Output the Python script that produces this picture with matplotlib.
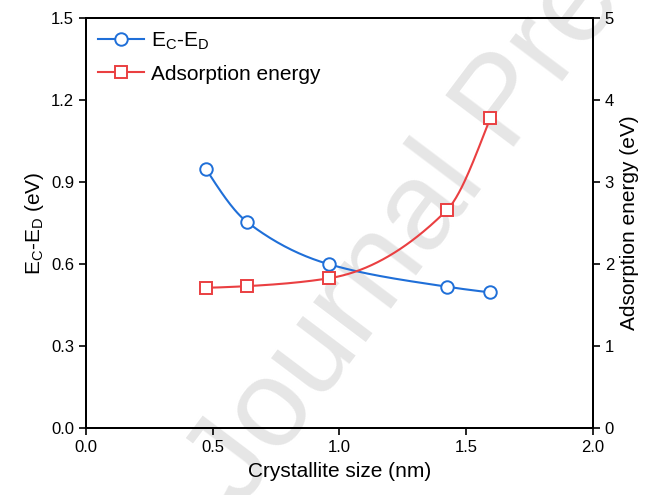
import numpy as np
import matplotlib.pyplot as plt
from matplotlib.lines import Line2D

plt.rcParams['font.family'] = ['Liberation Sans', 'DejaVu Sans']

# data
size_nm = [0.473, 0.635, 0.959, 1.423, 1.595]
ec_ed = [0.948, 0.754, 0.599, 0.517, 0.496]
ads_energy = [1.71, 1.73, 1.826, 2.655, 3.78]


def smooth_line(x, y, n=200):
    # monotone cubic (pchip) through the points, only for drawing the line
    x = np.asarray(x, float)
    y = np.asarray(y, float)
    h = np.diff(x)
    d = np.diff(y) / h
    m = np.zeros_like(y)
    for i in range(1, len(x) - 1):
        if d[i - 1] * d[i] > 0:
            w1 = 2 * h[i] + h[i - 1]
            w2 = h[i] + 2 * h[i - 1]
            m[i] = (w1 + w2) / (w1 / d[i - 1] + w2 / d[i])
    m[0] = ((2 * h[0] + h[1]) * d[0] - h[0] * d[1]) / (h[0] + h[1])
    if np.sign(m[0]) != np.sign(d[0]):
        m[0] = 0
    m[-1] = ((2 * h[-1] + h[-2]) * d[-1] - h[-1] * d[-2]) / (h[-1] + h[-2])
    if np.sign(m[-1]) != np.sign(d[-1]):
        m[-1] = 0
    xs = np.linspace(x[0], x[-1], n)
    idx = np.clip(np.searchsorted(x, xs) - 1, 0, len(x) - 2)
    t = (xs - x[idx]) / h[idx]
    h00 = 2 * t**3 - 3 * t**2 + 1
    h10 = t**3 - 2 * t**2 + t
    h01 = -2 * t**3 + 3 * t**2
    h11 = t**3 - t**2
    ys = h00 * y[idx] + h10 * h[idx] * m[idx] + h01 * y[idx + 1] + h11 * h[idx] * m[idx + 1]
    return xs, ys


blue = '#1f6fd8'
red = '#ea3f41'

fig = plt.figure(figsize=(6.49, 4.95), dpi=100)
ax = fig.add_axes([0.1325, 0.1354, 0.7812, 0.8282])
ax2 = ax.twinx()

# watermark, behind the curves
ax.text(0.37, -0.03, 'Journal Pre-proof', transform=fig.transFigure,
        fontsize=90, color='#e6e6e6', rotation=53, rotation_mode='anchor',
        ha='left', va='baseline', zorder=0, clip_on=False)

xs, ys = smooth_line(size_nm, ec_ed)
ax.plot(xs, ys, color=blue, lw=1.5, zorder=3)
ax.plot(size_nm, ec_ed, 'o', ms=9, mfc='white', mec=blue, mew=1.4, ls='none', zorder=4)

xs2, ys2 = smooth_line(size_nm, ads_energy)
ax2.plot(xs2, ys2, color=red, lw=1.5)
ax2.plot(size_nm, ads_energy, 's', ms=8.5, mfc='white', mec=red, mew=1.4, ls='none')

ax.set_xlim(0, 2.0)
ax.set_ylim(0, 1.5)
ax2.set_ylim(0, 5)
ax.set_xticks(np.arange(0, 2.01, 0.5))
ax.set_yticks(np.arange(0, 1.51, 0.3))
ax2.set_yticks(range(0, 6))
ax.xaxis.set_major_formatter(plt.FormatStrFormatter('%.1f'))
ax.yaxis.set_major_formatter(plt.FormatStrFormatter('%.1f'))

for a in (ax, ax2):
    a.tick_params(direction='out', length=5, width=1.2, labelsize=12)
    for s in a.spines.values():
        s.set_linewidth(1.4)
ax.patch.set_alpha(0)

ax.set_xlabel('Crystallite size (nm)', fontsize=15, labelpad=5)
ax.set_ylabel(r'E$_\mathregular{C}$-E$_\mathregular{D}$ (eV)', fontsize=15)
ax2.set_ylabel('Adsorption energy (eV)', fontsize=15)

handles = [
    Line2D([], [], color=blue, lw=1.5, marker='o', ms=9, mfc='white', mec=blue, mew=1.4),
    Line2D([], [], color=red, lw=1.5, marker='s', ms=8.5, mfc='white', mec=red, mew=1.4),
]
leg = ax.legend(handles, [r'E$_\mathregular{C}$-E$_\mathregular{D}$', 'Adsorption energy'],
                loc='upper left', frameon=False, fontsize=15, handlelength=2.2,
                handletextpad=0.3, borderaxespad=0.2, labelspacing=0.6)
leg.set_zorder(5)

fig.savefig('out.png', dpi=100)
